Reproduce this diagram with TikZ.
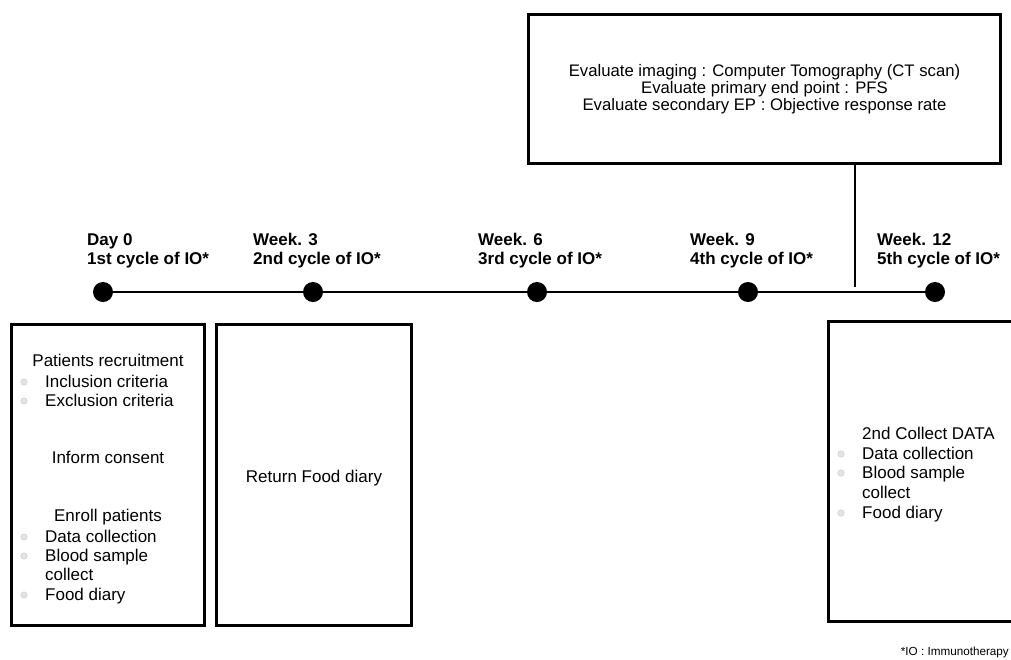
\documentclass[tikz,border=0pt]{standalone}
\usepackage{fontspec}
\setmainfont{Liberation Sans}
\usetikzlibrary{positioning}

\begin{document}
\begin{tikzpicture}[x=1pt,y=-1pt,
  box/.style={draw, line width=3pt, inner sep=0pt},
  lbl/.style={font=\fontsize{17}{20}\selectfont, inner sep=0pt},
  tick/.style={inner sep=0pt, font=\bfseries\fontsize{17}{19}\selectfont, align=left, anchor=base west},
  dot/.style={circle, fill=black, minimum size=20pt, inner sep=0pt},
  bul/.style={circle, fill=gray!22, draw=gray!40, line width=0.4pt, minimum size=6.5pt, inner sep=0pt}]
  \clip (0,0) rectangle (1011,659);
  \fill[white] (0,0) rectangle (1011,659);
  % timeline
  \foreach \n/\x/\wk/\cyc/\lx in {0/103/Day 0/1st/87, 1/313/Week. 3/2nd/253,
      2/537/Week. 6/3rd/478, 3/748/Week. 9/4th/690, 4/935/Week. 12/5th/877}{
    \node[dot] (d\n) at (\x,292) {};
    \node[tick] (t\n) at (\lx,264) {\wk\\\cyc{} cycle of IO*};
  }
  \draw[line width=2pt] (d0) -- (d1) -- (d2) -- (d3) -- (d4);
  % evaluation at week 12
  \node[box, minimum width=472pt, minimum height=149pt, align=center,
    font=\fontsize{16.7}{17}\selectfont] (eval) at (764.5,89)
    {Evaluate imaging : Computer Tomography (CT scan)\\
     Evaluate primary end point : PFS\\
     Evaluate secondary EP : Objective response rate};
  \coordinate (evalend) at (855,287);
  \draw[line width=1.5pt] (eval.south -| evalend) -- (evalend);
  % day 0 box
  \node[box, minimum width=193pt, minimum height=301pt] (b0) at (108,475) {};
  \node[lbl, anchor=base] (rec) at (108,366) {Patients recruitment};
  \foreach \i/\y/\t in {1/387/Inclusion criteria, 2/406/Exclusion criteria}{
    \node[bul] (ra\i) at (24,\y-5) {};
    \node[lbl, anchor=base west] (ri\i) at (45,\y) {\t};
  }
  \node[lbl, anchor=base] (cons) at (108,463) {Inform consent};
  \node[lbl, anchor=base] (enr) at (108,521) {Enroll patients};
  \foreach \i/\y/\t in {1/542/Data collection, 2/561/Blood sample, 3/600/Food diary}{
    \node[bul] (ea\i) at (24,\y-5) {};
    \node[lbl, anchor=base west] (ei\i) at (45,\y) {\t};
  }
  \node[lbl, anchor=base west] (ecol) at (45,580) {collect};
  % week 3 box
  \node[box, minimum width=195pt, minimum height=301pt] (b1) at (314,475) {};
  \node[lbl, anchor=base] (ret) at (314,482) {Return Food diary};
  % week 12 box
  \node[box, minimum width=200pt, minimum height=300pt] (b4) at (928.5,471.5) {};
  \node[lbl, anchor=base west] (col) at (862,439) {2nd Collect DATA};
  \foreach \i/\y/\t in {1/459/Data collection, 2/478/Blood sample, 3/518/Food diary}{
    \node[bul] (ca\i) at (841,\y-5) {};
    \node[lbl, anchor=base west] (ci\i) at (862,\y) {\t};
  }
  \node[lbl, anchor=base west] (ccol) at (862,498) {collect};
  % footnote
  \node[inner sep=0pt, anchor=base east, font=\fontsize{11.7}{13}\selectfont] (note)
    at (1009,655) {*IO : Immunotherapy};
\end{tikzpicture}
\end{document}
